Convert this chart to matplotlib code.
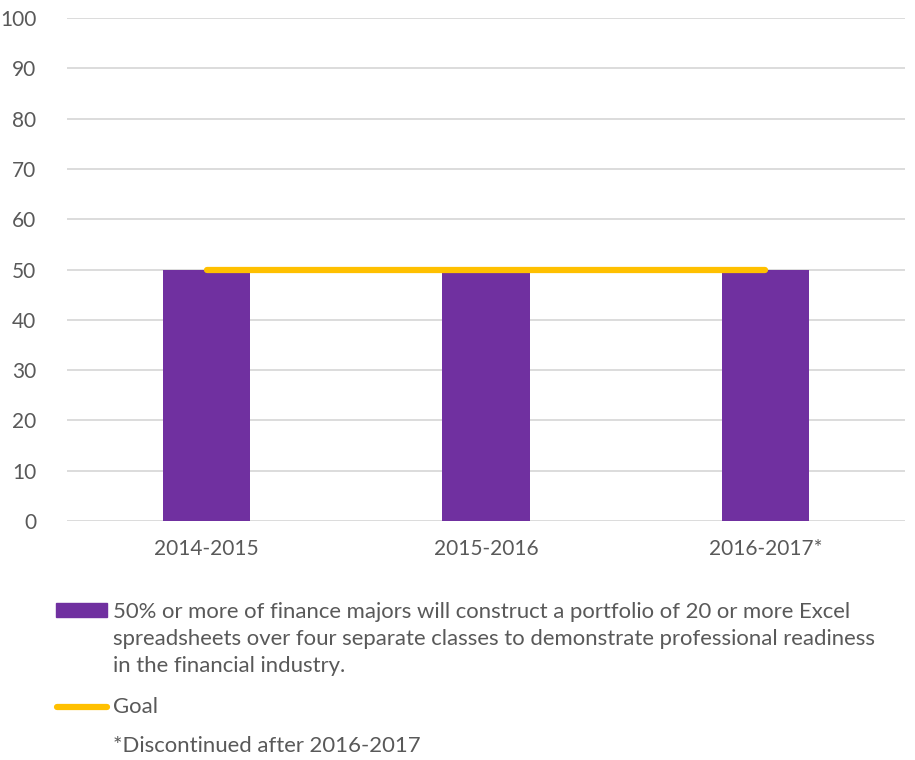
import matplotlib
matplotlib.use("Agg")
import matplotlib.pyplot as plt
from matplotlib.patches import Rectangle
from matplotlib.lines import Line2D

plt.rcParams['font.family'] = ['Lato', 'DejaVu Sans']

# data
years = ['2014-2015', '2015-2016', '2016-2017*']
pct_portfolio = [50, 50, 50]
goal = [50, 50, 50]
yticks = list(range(0, 101, 10))

series_label = ("50% or more of finance majors will construct a portfolio of 20 or more Excel\n"
                "spreadsheets over four separate classes to demonstrate professional readiness\n"
                "in the financial industry.")
goal_label = "Goal"
note = "*Discontinued after 2016-2017"

purple = '#7030A0'
gold = '#FFC000'
grey_txt = '#595959'

fig = plt.figure(figsize=(9.15, 7.6), dpi=100)
ax = fig.add_axes([67 / 915, 1 - 521 / 760, 838 / 915, 503 / 760])

x = range(len(years))
ax.bar(x, pct_portfolio, width=0.313, color=purple, zorder=2)
ax.plot(x, goal, color=gold, linewidth=4.5, solid_capstyle='round', zorder=3)

ax.set_xlim(-0.5, len(years) - 0.5)
ax.set_ylim(0, 100)
ax.set_yticks(yticks)
ax.set_xticks(list(x))
ax.set_xticklabels(years)
ax.grid(axis='y', color='#D9D9D9', linewidth=1.3, zorder=0)
for s in ax.spines.values():
    s.set_visible(False)
ax.tick_params(axis='both', length=0, labelsize=15, labelcolor=grey_txt)
ax.tick_params(axis='y', pad=22)
ax.tick_params(axis='x', pad=13)

# legend drawn by hand so the long label wraps like the source
fs = 15.9
fig.patches.append(Rectangle((56 / 915, 1 - 617 / 760), 51 / 915, 14 / 760,
                             transform=fig.transFigure, color=purple))
fig.text(113 / 915, 1 - 639 / 760, series_label, fontsize=fs, color=grey_txt,
         va='center', ha='left', linespacing=1.45)
fig.lines.append(Line2D([57 / 915, 107 / 915], [1 - 707 / 760] * 2, transform=fig.transFigure,
                        color=gold, linewidth=4.5, solid_capstyle='round'))
fig.text(113 / 915, 1 - 707 / 760, goal_label, fontsize=fs, color=grey_txt, va='center', ha='left')
fig.text(113 / 915, 1 - 746 / 760, note, fontsize=fs, color=grey_txt, va='center', ha='left')

fig.savefig('out.png', dpi=100)
